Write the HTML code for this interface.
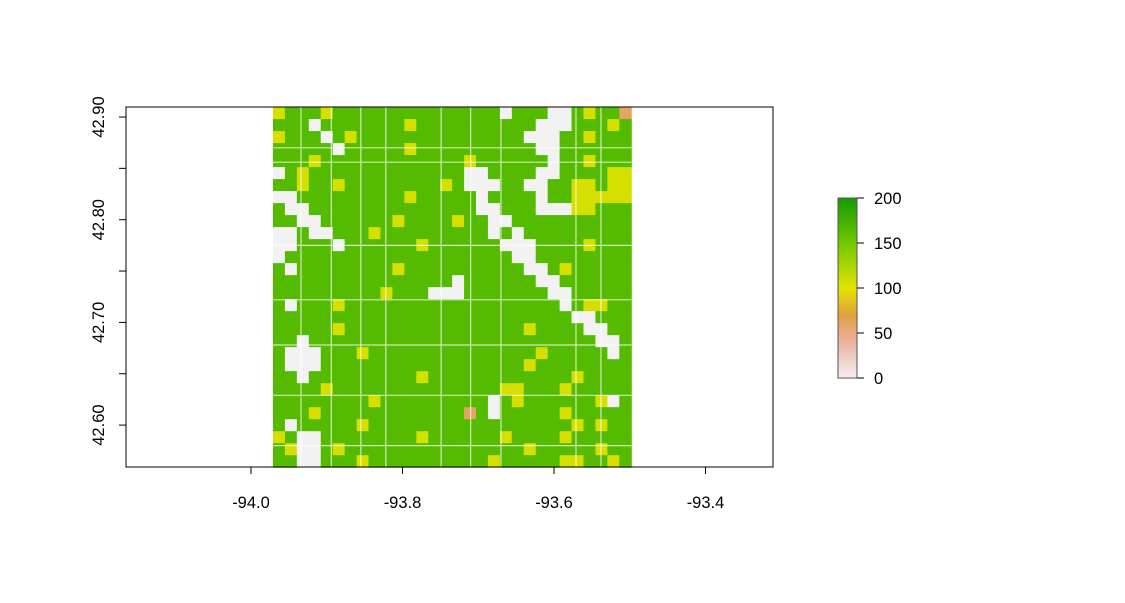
<!DOCTYPE html>
<html><head><meta charset="utf-8"><style>
html,body{margin:0;padding:0;background:#fff;}
svg{display:block;font-family:"Liberation Sans",Arial,sans-serif;}
</style></head><body>
<svg id="chart" width="1125" height="603">
<defs>
<linearGradient id="lg" x1="0" y1="1" x2="0" y2="0">
<stop offset="0" stop-color="#f2f2f2"/><stop offset="0.2" stop-color="#ebb0a0"/>
<stop offset="0.35" stop-color="#e0a040"/><stop offset="0.5" stop-color="#e3e300"/>
<stop offset="0.75" stop-color="#70c800"/><stop offset="1" stop-color="#149a00"/>
</linearGradient>
</defs>
<g id="raster"></g>
<g id="roads"></g>
<rect x="126" y="107" width="647" height="360" fill="none" stroke="#000" stroke-width="1"/>
<g id="xaxis"></g>
<g id="yaxis"></g>
<g id="legend">
<rect x="838" y="198" width="19" height="180" fill="url(#lg)" stroke="#555" stroke-width="1"/>
</g>
</svg>
<script>
const rowsData = [
"YGGGYGGGGGGGGGGGGGGWGGGWWGYGGP",
"GGGWGGGGGGGYGGGGGGGGGGWWWGGGYG",
"YGGGWGYGGGGGGGGGGGGGGWWWGGYGGG",
"GGGGGWGGGGGYGGGGGGGGGGWWGGGGGG",
"GGGYGGGGGGGGGGGGYGGGGGGWGGYGGG",
"WGYGGGGGGGGGGGGGWWGGGGWWGGGGYY",
"GGYGGYGGGGGGGGYGWWWGGWWGGYYGYY",
"WWGGGGGGGGGYGGGGGWGGGGWGGYYYYY",
"GWWGGGGGGGGGGGGGGWWGGGWWWYYGGG",
"GGWWGGGGGGYGGGGYGGWWGGGGGGGGGG",
"WWGWWGGGYGGGGGGGGGWGWGGGGGGGGG",
"WWGGGWGGGGGGYGGGGGGWWWGGGGYGGG",
"WGGGGGGGGGGGGGGGGGGGWWGGGGGGGG",
"GWGGGGGGGGYGGGGGGGGGGWWGYGGGGG",
"GGGGGGGGGGGGGGGWGGGGGGWWGGGGGG",
"GGGGGGGGGYGGGWWWGGGGGGGWWGGGGG",
"GWGGGYGGGGGGGGGGGGGGGGGGWGYYGG",
"GGGGGGGGGGGGGGGGGGGGGGGGGWWGGG",
"GGGGGYGGGGGGGGGGGGGGGYGGGGWWGG",
"GGWGGGGGGGGGGGGGGGGGGGGGGGGWWG",
"GWWWGGGYGGGGGGGGGGGGGGYGGGGGWG",
"GWWWGGGGGGGGGGGGGGGGGYGGGGGGGG",
"GGWGGGGGGGGGYGGGGGGGGGGGGYGGGG",
"GGGGYGGGGGGGGGGGGGGYYGGGYGGGGG",
"GGGGGGGGYGGGGGGGGGWGYGGGGGGYWG",
"GGGYGGGGGGGGGGGGPGWGGGGGYGGGGG",
"GWGGGGGYGGGGGGGGGGGGGGGGGYGYGG",
"YGWWGGGGGGGGYGGGGGGYGGGGYGGGGG",
"GYWWGYGGGGGGGGGGGGGGGYGGGGGYGG",
"GGWWGGGYGGGGGGGGGGYGGGGGYYGGYG"
];
const codeValues = {G:150, Y:105, W:0, P:60};
const rasterExtent = [-93.971, -93.498, 42.559, 42.9097];
const xTicks = [-94.0, -93.8, -93.6, -93.4];
const xTickLabels = ["-94.0","-93.8","-93.6","-93.4"];
const yTicks = [42.60, 42.65, 42.70, 42.75, 42.80, 42.85, 42.90];
const yTickLabels = ["42.60","","42.70","","42.80","","42.90"];
const legendTicks = [0, 50, 100, 150, 200];
const roadLons = [-93.934, -93.894, -93.855, -93.822, -93.749, -93.710, -93.670, -93.571, -93.538];
const roadLats = [42.870, 42.856, 42.775, 42.722, 42.678, 42.629, 42.580];

const NS = "http://www.w3.org/2000/svg";
const xs = v => 251 + (v + 94) / 0.2 * 151.5;
const ys = v => 117 + (42.90 - v) / 0.10 * 102.7;
const ls = v => 378 - v / 200 * 180;
function colorOf(v){
  const st=[[0,[242,242,242]],[40,[235,176,160]],[70,[224,160,64]],[100,[227,227,0]],[150,[85,187,0]],[200,[20,154,0]]];
  for(let i=1;i<st.length;i++){ if(v<=st[i][0]){const a=st[i-1],b=st[i],t=(v-a[0])/(b[0]-a[0]);
    return "rgb("+a[1].map((c,k)=>Math.round(c+(b[1][k]-c)*t)).join(",")+")";}}
  return "rgb(20,154,0)";
}
function mk(tag, attrs, parent){const e=document.createElementNS(NS,tag);for(const k in attrs)e.setAttribute(k,attrs[k]);parent.appendChild(e);return e;}

const rg=document.getElementById("raster");
const nr=rowsData.length, nc=rowsData[0].length;
const x0=xs(rasterExtent[0]), x1=xs(rasterExtent[1]), y0=ys(rasterExtent[3]), y1=ys(rasterExtent[2]);
const cw=(x1-x0)/nc, ch=(y1-y0)/nr;
rowsData.forEach((row,r)=>{
  for(let c=0;c<nc;c++){
    const v=codeValues[row[c]];
    const e=mk("rect",{x:x0+c*cw,y:y0+r*ch,width:cw+0.5,height:ch+0.5,fill:colorOf(v)},rg);
    
    
  }
});
const rd=document.getElementById("roads");
roadLons.forEach(l=>{
  const e=mk("line",{x1:xs(l),x2:xs(l),y1:y0,y2:y1,stroke:"#fff","stroke-width":1.2,"stroke-opacity":0.7},rd);
  
  
});
roadLats.forEach(l=>{
  const e=mk("line",{x1:x0,x2:x1,y1:ys(l),y2:ys(l),stroke:"#fff","stroke-width":1.2,"stroke-opacity":0.7},rd);
  
  
});
const xa=document.getElementById("xaxis");
xTicks.forEach((t,i)=>{
  const e=mk("line",{x1:xs(t),x2:xs(t),y1:467,y2:474,stroke:"#000"},xa);
  
  
  const tx=mk("text",{x:xs(t),y:508,"text-anchor":"middle","font-size":16.5},xa);
  tx.textContent=xTickLabels[i];
  
  
});
const ya=document.getElementById("yaxis");
yTicks.forEach((t,i)=>{
  const e=mk("line",{x1:119,x2:126,y1:ys(t),y2:ys(t),stroke:"#000"},ya);
  
  
  if(yTickLabels[i]){
    const tx=mk("text",{x:0,y:0,transform:"translate(104,"+ys(t)+") rotate(-90)","text-anchor":"middle","font-size":16.5},ya);
    tx.textContent=yTickLabels[i];
    
    
  }
});
const lg=document.getElementById("legend");
legendTicks.forEach(t=>{
  const e=mk("line",{x1:857,x2:864,y1:ls(t),y2:ls(t),stroke:"#000"},lg);
  
  
  const tx=mk("text",{x:874,y:ls(t)+6,"font-size":16.5},lg);
  tx.textContent=String(t);
  
  
});
</script>
</body></html>
